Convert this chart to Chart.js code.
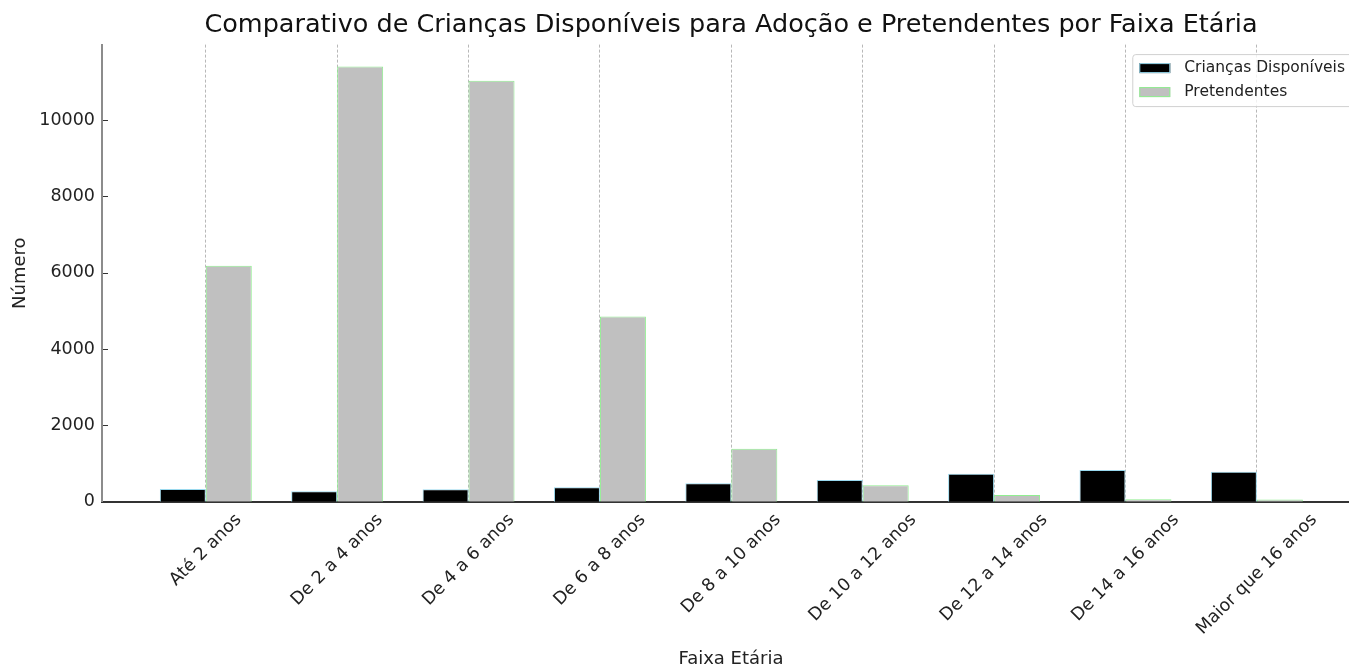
<!DOCTYPE html>
<html lang="pt-BR">
<head>
<meta charset="utf-8">
<title>Comparativo de Crianças Disponíveis para Adoção e Pretendentes por Faixa Etária</title>
<script src="https://cdn.jsdelivr.net/npm/chart.js@4.4.1/dist/chart.umd.min.js"></script>
<style>
  html, body { margin: 0; padding: 0; background: #fff; overflow: hidden; }
  #wrap { width: 1370px; height: 668px; }
</style>
</head>
<body>
<div id="wrap"><canvas id="faixaChart" width="1370" height="668"></canvas></div>
<script>
// valores
const faixas = ['Até 2 anos', 'De 2 a 4 anos', 'De 4 a 6 anos', 'De 6 a 8 anos', 'De 8 a 10 anos',
                'De 10 a 12 anos', 'De 12 a 14 anos', 'De 14 a 16 anos', 'Maior que 16 anos'];
const criancas = [333, 272, 325, 377, 482, 569, 734, 830, 786];
const pretendentes = [6180, 11400, 11030, 4850, 1390, 430, 175, 63, 58];
const yTicks = [0, 2000, 4000, 6000, 8000, 10000];

const FONT = "'DejaVu Sans', 'Noto Sans', sans-serif";

// title centred over the plot area, like matplotlib
const titleOverPlot = {
    id: 'titleOverPlot',
    afterLayout(chart) {
        const tb = chart.titleBlock;
        if (!tb) return;
        tb.left = chart.chartArea.left;
        tb.right = chart.chartArea.right;
        tb.width = tb.right - tb.left;
    }
};

// rotated x labels centred on the tick (matplotlib style)
const centerLabels = {
    id: 'centerLabels',
    beforeDraw(chart) {
        const items = chart.scales.x.getLabelItems();
        if (items._centered) return;
        const ctx = chart.ctx;
        ctx.save();
        items.forEach(it => {
            ctx.font = it.font.string;
            const w = ctx.measureText(it.label).width;
            it.options.translation[0] += w * Math.SQRT1_2 / 2;
        });
        ctx.restore();
        items._centered = true;
    }
};

// small inward ticks on the y axis
const innerTicks = {
    id: 'innerTicks',
    afterDatasetsDraw(chart) {
        const { ctx, chartArea, scales } = chart;
        ctx.save();
        ctx.strokeStyle = '#333';
        ctx.lineWidth = 1;
        scales.y.ticks.forEach(t => {
            const y = Math.round(scales.y.getPixelForValue(t.value)) + 0.5;
            ctx.beginPath();
            ctx.moveTo(chartArea.left + 1, y);
            ctx.lineTo(chartArea.left + 6, y);
            ctx.stroke();
        });
        ctx.restore();
    }
};

// legend box in the upper right corner of the plot
const boxLegend = {
    id: 'boxLegend',
    afterDraw(chart) {
        const { ctx, chartArea } = chart;
        const sets = chart.data.datasets;
        ctx.save();
        ctx.font = '15.5px ' + FONT;
        const textW = Math.max(...sets.map(d => ctx.measureText(d.label).width));
        const right = chartArea.right - 8;
        const top = chartArea.top + 9.5;
        const left = right - (52 + textW + 7);
        const h = 52;
        ctx.beginPath();
        ctx.roundRect(left + 0.5, top + 0.5, right - left, h, 3);
        ctx.fillStyle = 'rgba(255,255,255,0.8)';
        ctx.fill();
        ctx.strokeStyle = '#d0d0d0';
        ctx.lineWidth = 1;
        ctx.stroke();
        sets.forEach((d, i) => {
            const cy = top + 14 + i * 24;
            ctx.fillStyle = d.backgroundColor;
            ctx.fillRect(left + 7, cy - 5, 31, 10);
            ctx.strokeStyle = d.borderColor;
            ctx.strokeRect(left + 7.5, cy - 4.5, 30, 9);
            ctx.fillStyle = '#222';
            ctx.textBaseline = 'middle';
            ctx.textAlign = 'left';
            ctx.fillText(d.label, left + 52, cy);
        });
        ctx.restore();
    }
};

new Chart(document.getElementById('faixaChart'), {
    type: 'bar',
    data: {
        datasets: [
            {
                label: 'Crianças Disponíveis',
                data: faixas.map((f, i) => ({ x: i, y: criancas[i] })),
                backgroundColor: '#000000',
                borderColor: '#9ad9ee',
                borderWidth: 1
            },
            {
                label: 'Pretendentes',
                data: faixas.map((f, i) => ({ x: i, y: pretendentes[i] })),
                backgroundColor: '#c0c0c0',
                borderColor: '#90ee90',
                borderWidth: 1
            }
        ]
    },
    options: {
        responsive: false,
        animation: false,
        categoryPercentage: 0.7,
        barPercentage: 1,
        layout: { padding: { left: 0, right: 10, top: 0, bottom: 0 } },
        plugins: {
            legend: { display: false },
            tooltip: { enabled: false },
            title: {
                display: true,
                text: 'Comparativo de Crianças Disponíveis para Adoção e Pretendentes por Faixa Etária',
                color: '#111',
                font: { family: FONT, size: 25.5, weight: 'normal', lineHeight: 1.2 },
                padding: { top: 10, bottom: 4 }
            }
        },
        scales: {
            x: {
                type: 'linear',
                min: -0.79,
                max: 8.785,
                offset: false,
                afterBuildTicks: (axis) => { axis.ticks = faixas.map((f, i) => ({ value: i })); },
                afterFit: (axis) => { axis.height = 166.3; },
                ticks: {
                    autoSkip: false,
                    minRotation: 45,
                    maxRotation: 45,
                    padding: 8,
                    color: '#222',
                    font: { family: FONT, size: 17.5 },
                    callback: (v) => faixas[v]
                },
                grid: {
                    display: true,
                    offset: false,
                    drawTicks: false,
                    color: 'rgba(0,0,0,0.28)',
                    lineWidth: 1
                },
                border: { display: true, color: '#333', width: 2, dash: [3, 2] },
                title: {
                    display: true,
                    text: 'Faixa Etária',
                    color: '#222',
                    font: { family: FONT, size: 18, lineHeight: 1 },
                    padding: { top: 0, bottom: 0 }
                }
            },
            y: {
                min: 0,
                max: 11975,
                afterBuildTicks: (axis) => { axis.ticks = yTicks.map(v => ({ value: v })); },
                afterFit: (axis) => { axis.width = 102; },
                ticks: {
                    padding: 7,
                    color: '#222',
                    font: { family: FONT, size: 17.5 },
                    callback: (v) => String(v)
                },
                grid: { display: false, drawTicks: false },
                border: { display: true, color: '#8c8c8c', width: 2 },
                title: {
                    display: true,
                    text: 'Número',
                    color: '#222',
                    font: { family: FONT, size: 18, lineHeight: 1 },
                    padding: { top: 11.5, bottom: 0 }
                }
            }
        }
    },
    plugins: [titleOverPlot, centerLabels, innerTicks, boxLegend]
});
</script>
</body>
</html>
